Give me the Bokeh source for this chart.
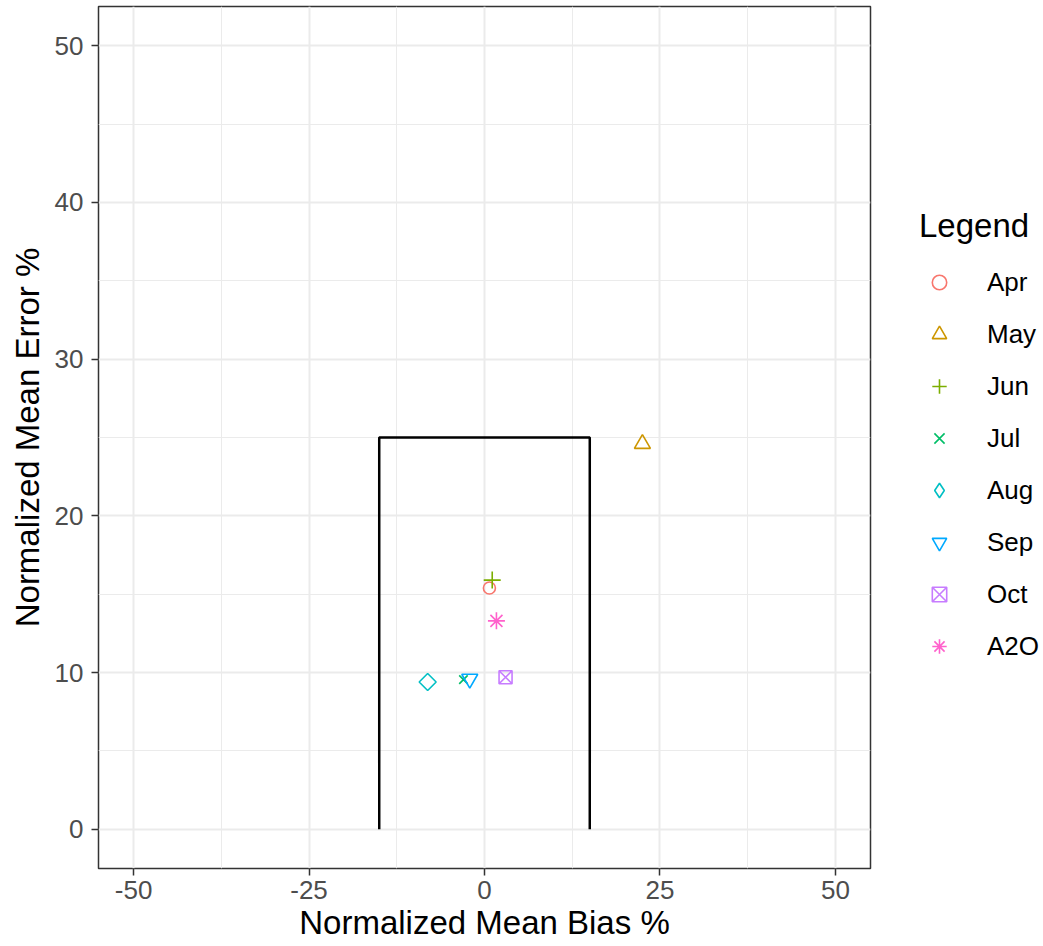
import math
from bokeh.plotting import figure
from bokeh.layouts import row
from bokeh.models import Range1d, FixedTicker, Legend, LegendItem
from bokeh.embed import file_html
from bokeh.resources import INLINE

# ---- data ----
months = ["Apr", "May", "Jun", "Jul", "Aug", "Sep", "Oct", "A2O"]
nmb = [0.7, 22.5, 1.1, -3.0, -8.1, -2.1, 3.0, 1.7]      # Normalized Mean Bias %
nme = [15.4, 24.6, 15.9, 9.55, 9.4, 9.6, 9.7, 13.3]     # Normalized Mean Error %
colors = ["#F8766D", "#CD9600", "#7CAE00", "#00BE67", "#00BFC4", "#00A9FF", "#C77CFF", "#FF61CC"]
markers = ["circle", "triangle", "cross", "x", "square", "inverted_triangle", "square_x", "asterisk"]
legend_markers = ["circle", "triangle", "cross", "x", "diamond", "inverted_triangle", "square_x", "asterisk"]
angles = [0, 0, 0, 0, math.pi / 4, 0, 0, 0]
sizes = [12, 16, 17, 12, 12, 16, 13, 17]

goal_x = [-15, -15, 15, 15]
goal_y = [0, 25, 25, 0]

x_ticks = [-50, -25, 0, 25, 50]
x_minor = [-37.5, -12.5, 12.5, 37.5]
y_ticks = [0, 10, 20, 30, 40, 50]
y_minor = [5, 15, 25, 35, 45]

FONT = "Liberation Sans"
H = 944

p = figure(width=872, height=H, output_backend="svg", toolbar_location=None,
           x_range=Range1d(-55, 55), y_range=Range1d(-2.5, 52.5),
           min_border_left=98, min_border_right=2, min_border_top=6, min_border_bottom=76)

p.outline_line_color = "#333333"
p.outline_line_width = 1.5
p.background_fill_color = "white"
p.border_fill_color = "white"

p.xaxis.ticker = FixedTicker(ticks=x_ticks, minor_ticks=x_minor)
p.yaxis.ticker = FixedTicker(ticks=y_ticks, minor_ticks=y_minor)
p.xaxis.major_label_overrides = {t: str(t) for t in x_ticks}

for ax in (p.xaxis[0], p.yaxis[0]):
    ax.axis_line_color = None
    ax.major_tick_line_color = "#333333"
    ax.major_tick_line_width = 1.5
    ax.major_tick_out = 7
    ax.major_tick_in = 0
    ax.minor_tick_line_color = None
    ax.major_label_text_font = FONT
    ax.major_label_text_font_size = "26px"
    ax.major_label_text_color = "#4D4D4D"
    ax.axis_label_text_font = FONT
    ax.axis_label_text_font_size = "33px"
    ax.axis_label_text_font_style = "normal"
    ax.axis_label_text_color = "black"

p.xaxis.axis_label = "Normalized Mean Bias %"
p.yaxis.axis_label = "Normalized Mean Error %"
p.xaxis.major_label_standoff = 5
p.yaxis.major_label_standoff = 8
p.xaxis.axis_label_standoff = 2
p.yaxis.axis_label_standoff = 6

for g in (p.xgrid[0], p.ygrid[0]):
    g.grid_line_color = "#EBEBEB"
    g.grid_line_width = 2
    g.minor_grid_line_color = "#EBEBEB"
    g.minor_grid_line_width = 1

p.line(goal_x, goal_y, line_color="black", line_width=2.5)

# legend panel (separate figure to the right; its glyphs lie outside its view)
lg = figure(width=1043 - 872, height=H, output_backend="svg", toolbar_location=None,
            x_range=Range1d(1000, 1001), y_range=Range1d(1000, 1001),
            x_axis_location=None, y_axis_location=None,
            min_border_left=0, min_border_right=0, min_border_top=0, min_border_bottom=0)
lg.outline_line_color = None
lg.xgrid.visible = False
lg.ygrid.visible = False

items = []
for i, m in enumerate(months):
    p.scatter([nmb[i]], [nme[i]], marker=markers[i], size=sizes[i], angle=angles[i],
              line_color=colors[i], fill_color=None, line_width=1.6)
    r = lg.scatter([nmb[i]], [nme[i]], marker=legend_markers[i], size=sizes[i],
                   line_color=colors[i], fill_color=None, line_width=1.6)
    items.append(LegendItem(label=m, renderers=[r]))

legend = Legend(items=items, location=(47, 204),
                title="Legend", title_text_font=FONT, title_text_font_size="33px",
                title_text_font_style="normal", title_text_color="black", title_standoff=19,
                label_text_font=FONT, label_text_font_size="26px", label_text_color="black",
                glyph_width=40, glyph_height=36, label_height=30,
                spacing=16, label_standoff=28, padding=5, margin=0,
                border_line_color=None, background_fill_alpha=0)
lg.add_layout(legend, "center")

layout = row(p, lg)
open("out.html", "w").write(file_html(layout, INLINE))
